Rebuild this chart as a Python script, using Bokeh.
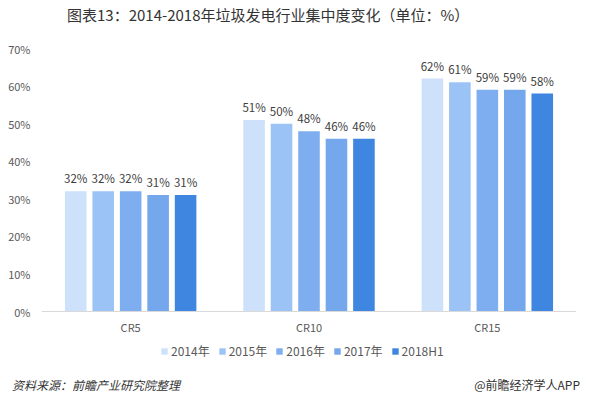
from bokeh.plotting import figure
from bokeh.layouts import column
from bokeh.models import (FactorRange, Range1d, ColumnDataSource, Legend, LegendItem, Div, Span,
                          CustomJSTickFormatter, FixedTicker)
from bokeh.transform import dodge
from bokeh.core.properties import value
from bokeh.embed import file_html
from bokeh.resources import INLINE

categories = ["CR5", "CR10", "CR15"]
series = ["2014年", "2015年", "2016年", "2017年", "2018H1"]
v2014 = [32, 51, 62]
v2015 = [32, 50, 61]
v2016 = [32, 48, 59]
v2017 = [31, 46, 59]
v2018 = [31, 46, 58]
values = [v2014, v2015, v2016, v2017, v2018]
colors = ["#cde1fb", "#9cc3f5", "#7faef0", "#75a7ec", "#3f86e0"]
y_ticks = [0, 10, 20, 30, 40, 50, 60, 70]
title_text = "图表13：2014-2018年垃圾发电行业集中度变化（单位：%）"
source_text = "资料来源：前瞻产业研究院整理"
brand_text = "@前瞻经济学人APP"

FONT = "Noto Sans CJK SC"
W = 590

head = Div(text=title_text, width=W, height=40, margin=0,
           styles={"font-family": FONT, "font-size": "15px", "color": "#333333",
                   "line-height": "16px", "padding-left": "67px", "padding-top": "7px",
                   "white-space": "nowrap", "box-sizing": "border-box"})

# main chart: frame spans from the 70% line down to the bottom of the legend
FRAME_H = 317
Y_LOW = -54 * 70 / 263.0
p = figure(width=W, height=325, x_range=FactorRange(*categories), y_range=Range1d(Y_LOW, 70),
           output_backend="svg", toolbar_location=None, x_axis_location=None,
           min_border_left=41, min_border_right=14, min_border_top=8, min_border_bottom=0)
p.outline_line_color = None
p.xgrid.grid_line_color = None
p.ygrid.grid_line_color = None

offsets = [-0.308, -0.154, 0.0, 0.154, 0.308]
items = []
for s, vals, c, off in zip(series, values, colors, offsets):
    src = ColumnDataSource(dict(cat=categories, v=vals, lbl=[f"{x}%" for x in vals]))
    r = p.vbar(x=dodge("cat", off, range=p.x_range), top="v", bottom=0, width=0.121,
               source=src, fill_color=c, line_color=None)
    p.text(x=dodge("cat", off, range=p.x_range), y="v", text="lbl", source=src,
           text_align="center", text_baseline="bottom", y_offset=-5,
           text_font=value(FONT), text_font_size="11.5px", text_color="#404040")
    items.append(LegendItem(label=s, renderers=[r]))

# category axis (baseline + category names at the zero line)
p.add_layout(Span(location=0, dimension="width", line_color="#d9d9d9", line_width=1))
cat_src = ColumnDataSource(dict(cat=categories, y=[0] * len(categories)))
p.text(x="cat", y="y", text="cat", source=cat_src, text_align="center",
       text_baseline="middle", y_offset=15, text_font=value(FONT),
       text_font_size="11px", text_color="#595959")

p.yaxis.ticker = FixedTicker(ticks=y_ticks)
p.yaxis.formatter = CustomJSTickFormatter(code="return tick + '%';")
p.yaxis.axis_line_color = None
p.yaxis.major_tick_line_color = None
p.yaxis.minor_tick_line_color = None
p.yaxis.major_tick_out = 0
p.yaxis.major_tick_in = 0
p.yaxis.minor_tick_out = 0
p.yaxis.major_label_text_font = FONT
p.yaxis.major_label_text_font_size = "11px"
p.yaxis.major_label_text_color = "#595959"
p.yaxis.major_label_standoff = 11

legend = Legend(items=items, orientation="horizontal", location=(119, 6),
                glyph_width=8, glyph_height=8, label_standoff=3, spacing=8,
                padding=0, margin=0, border_line_color=None, background_fill_alpha=0,
                label_text_font=FONT, label_text_font_size="12px", label_text_color="#595959")
p.add_layout(legend, "center")

foot = Div(text=(f'<div style="display:flex;justify-content:space-between;width:568px;">'
                 f'<span style="font-style:italic;">{source_text}</span>'
                 f'<span>{brand_text}</span></div>'),
           width=W, height=32, margin=0,
           styles={"font-family": FONT, "font-size": "12px", "color": "#333333",
                   "line-height": "16px", "padding-left": "12px", "padding-top": "12px",
                   "box-sizing": "border-box"})

layout = column(head, p, foot, spacing=0)
open("out.html", "w").write(file_html(layout, INLINE))
